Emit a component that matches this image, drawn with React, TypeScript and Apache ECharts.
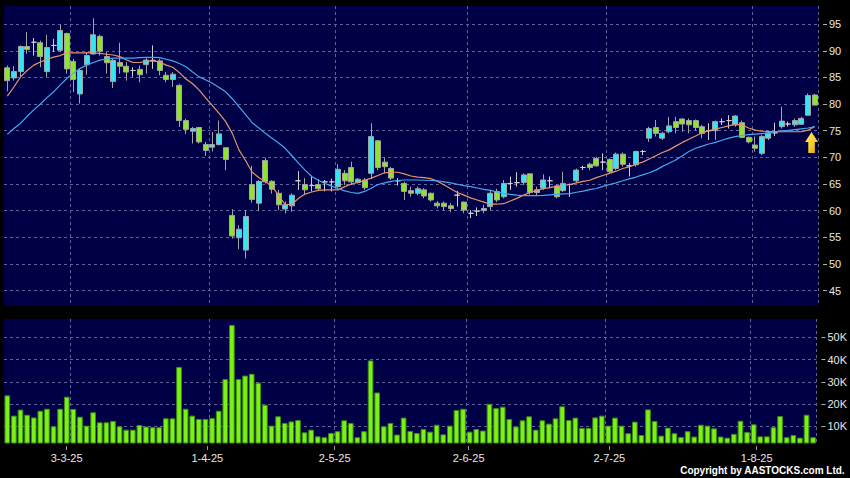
import React, { useEffect, useRef } from 'react';
import * as echarts from 'echarts';

// ---------- categories (HK trading days) ----------
const START_DATE: [number, number, number] = [2025, 1, 18]; // 18 Feb 2025
const DAY_COUNT = 123;
const HOLIDAYS = ['4-4-25', '18-4-25', '21-4-25', '1-5-25', '5-5-25', '1-7-25'];
const fmt = (d: Date) => `${d.getDate()}-${d.getMonth() + 1}-${String(d.getFullYear()).slice(2)}`;
function tradingDays(): string[] {
  const out: string[] = [];
  const d = new Date(START_DATE[0], START_DATE[1], START_DATE[2]);
  while (out.length < DAY_COUNT) {
    const wd = d.getDay();
    const s = fmt(d);
    if (wd !== 0 && wd !== 6 && !HOLIDAYS.includes(s)) out.push(s);
    d.setDate(d.getDate() + 1);
  }
  return out;
}
const DATES = tradingDays();
const TICK_LABELS = ['3-3-25', '1-4-25', '2-5-25', '2-6-25', '2-7-25', '1-8-25'];
const PRICE_TICKS = [45, 50, 55, 60, 65, 70, 75, 80, 85, 90, 95];
const VOLUME_TICKS = [10, 20, 30, 40, 50];

// ---------- series values ----------
const OPEN = [86.8,84.9,86.1,90.8,91.6,91.5,86.1,91.0,90.1,93.25, 88.0,81.9,87.4,89.4,92.7,88.9,84.25,87.8,87.1,86.3, 86.5,87.4,88.2,88.1,85.4,84.6,83.5,76.9,74.9,75.6, 72.4,71.9,72.4,71.8,59.1,54.9,52.6,64.9,61.4,69.4, 65.5,63.25,60.3,60.9,65.6,64.9,64.7,64.9,65.4,65.4, 64.5,67.0,68.1,65.3,65.75,67.0,73.1,69.1,67.9,65.6, 65.1,63.75,63.25,63.9,63.25,61.4,61.4,60.9,62.9,61.6, 59.5,59.9,60.0,60.75,63.6,62.6,65.1,65.25,65.3,66.9, 63.4,64.2,65.6,64.6,63.75,64.9,65.6,68.1,68.7,69.8, 69.1,69.6,67.9,70.6,68.4,68.6,71.1,73.6,75.6,73.6, 74.8,76.7,77.2,76.9,76.9,75.75,75.0,75.0,76.7,76.9, 76.1,76.5,73.75,72.3,70.75,73.6,74.6,75.75,76.25,76.1, 76.2,77.9,81.7];
const CLOSE = [84.4,86.1,90.8,90.25,91.6,88.9,90.6,91.0,93.8,86.6, 84.6,86.3,89.1,93.0,89.9,87.75,88.2,87.1,86.0,86.3, 85.5,88.25,88.2,86.3,84.6,85.6,76.9,75.25,75.4,72.9, 71.3,72.4,74.4,69.6,55.25,56.5,58.9,62.1,65.5,65.4, 64.0,61.1,61.1,62.9,65.6,63.9,64.7,64.1,65.4,65.4, 67.75,65.6,65.4,65.9,64.3,73.9,68.1,68.25,66.1,65.6, 63.6,63.25,64.1,62.75,62.0,60.9,60.75,60.4,62.9,60.1, 59.5,59.9,60.4,63.25,62.0,65.1,65.1,65.25,66.7,63.4, 63.9,65.75,65.6,62.6,65.1,64.9,67.6,68.1,68.1,68.4, 69.1,67.3,70.6,68.7,68.4,71.1,71.1,75.4,74.5,74.5, 75.9,75.6,76.25,76.1,75.6,74.5,75.0,76.7,76.7,76.9, 77.75,73.75,72.9,71.7,73.9,74.6,74.6,76.8,76.25,76.9, 77.3,81.6,79.8];
const LOW = [82.4,84.4,85.1,89.4,89.1,86.9,85.1,89.75,89.75,85.7, 82.25,80.1,85.5,89.25,89.1,85.7,83.0,85.7,84.4,85.1, 84.1,85.7,86.6,85.4,84.1,83.2,75.7,74.4,72.6,72.6, 70.25,71.1,72.25,67.6,54.75,52.75,51.0,61.5,59.9,65.1, 63.2,60.1,59.5,59.8,63.9,62.9,63.6,63.7,63.6,63.6, 64.1,64.8,64.8,65.1,63.9,65.9,67.6,67.0,65.75,64.7, 62.0,62.6,62.9,62.3,61.7,60.4,60.1,59.7,60.75,59.5, 58.6,59.0,59.5,60.1,61.6,62.3,63.9,64.5,64.8,63.0, 62.9,63.9,64.3,62.3,63.5,62.6,65.25,67.6,67.6,68.25, 67.6,67.0,67.6,68.25,66.4,68.25,70.4,72.9,73.9,73.25, 74.5,74.5,74.8,74.5,75.1,73.6,73.25,73.25,76.1,75.4, 75.75,73.6,72.6,71.1,70.4,73.25,74.0,75.4,75.75,75.75, 76.1,77.9,79.8];
const HIGH = [87.25,87.1,91.0,93.5,92.4,91.9,93.0,92.25,94.9,93.4, 88.5,86.6,89.75,96.1,93.0,89.75,88.5,91.5,87.9,86.9, 87.25,88.6,91.0,88.5,86.0,86.0,83.8,77.25,75.7,75.7, 72.9,74.75,76.9,71.9,60.25,57.25,60.1,68.4,65.7,69.9, 65.7,63.9,61.7,63.25,67.4,66.1,66.4,65.9,65.75,66.0, 68.7,67.6,69.2,66.1,66.1,76.4,73.25,69.9,68.2,66.1, 65.4,64.5,64.5,64.2,63.4,61.8,61.7,61.4,63.7,61.7, 60.1,60.6,61.1,63.9,64.1,65.75,66.4,67.2,67.0,67.0, 64.5,66.8,66.4,64.9,67.3,65.1,67.9,68.4,69.0,70.1, 70.75,69.8,70.9,70.9,68.9,71.25,71.4,75.75,77.0,74.8, 77.6,77.6,77.3,77.3,77.1,76.1,76.4,76.9,77.3,77.9, 77.9,76.9,73.9,73.9,74.2,74.8,76.5,79.5,76.7,77.3, 77.6,82.0,81.9];
const VOLUME_K = [23.9,14.8,17.5,15.2,14.0,17.0,17.9,10.0,17.9,23.3, 17.8,14.3,10.3,16.3,11.8,11.8,12.4,10.0,8.5,8.5, 10.6,9.9,9.6,9.6,13.6,13.6,36.7,17.9,14.8,13.3, 13.3,13.7,17.0,31.2,55.5,31.2,32.8,33.6,29.6,19.7, 10.3,14.5,11.5,12.2,12.8,7.3,8.5,5.5,5.1,7.0, 7.8,12.7,11.5,5.1,7.8,39.6,25.2,10.0,11.5,6.3, 13.9,7.9,7.0,8.8,7.6,10.7,6.4,10.3,17.3,17.9, 7.6,8.8,8.1,20.1,18.2,18.8,13.3,9.9,12.7,14.5, 8.5,12.7,11.2,13.6,19.0,12.8,13.9,9.3,9.3,14.0, 14.8,10.3,13.9,10.3,6.9,12.1,6.1,17.6,12.4,5.8, 9.4,6.9,5.2,7.8,5.4,10.7,10.3,9.1,5.4,4.9, 6.6,12.5,7.5,10.9,5.5,5.5,9.6,14.6,5.1,6.1, 4.9,15.2,5.1];
const MA_SHORT = [81.5,83.2,85.1,86.3,87.3,87.9,88.4,88.8,89.1,89.6, 89.6,89.6,89.6,89.6,89.5,89.35,89.2,88.9,88.3,87.8, 87.8,88.0,88.1,87.9,87.3,86.9,85.9,84.7,83.8,82.6, 81.1,79.7,78.25,76.7,74.5,71.4,69.4,67.2,66.2,65.4, 64.6,62.8,61.1,61.2,62.3,63.1,63.5,63.8,63.9,63.9, 63.9,64.5,65.0,65.3,65.7,66.1,66.6,67.1,67.2,67.2, 66.9,66.5,66.3,66.2,66.0,65.5,64.8,64.1,63.4,62.9, 62.4,62.0,61.6,61.2,61.2,61.3,61.8,62.3,62.9,63.4, 63.8,64.1,64.3,64.6,64.7,64.9,65.2,65.5,65.7,66.2, 66.6,67.0,67.4,67.9,68.2,68.7,69.1,69.7,70.3,70.9, 71.4,72.1,72.8,73.4,74.0,74.6,75.0,75.3,75.6,75.9, 76.2,76.1,75.5,75.1,74.9,74.85,74.8,74.8,74.8,74.8, 74.8,75.1,75.8];
const MA_LONG = [74.3,75.4,76.4,77.7,78.9,80.0,81.2,82.3,83.6,84.8, 85.8,86.7,87.3,87.8,88.25,88.45,88.6,88.6,88.6,88.6, 88.7,88.75,88.75,88.7,88.4,88.1,87.6,87.0,86.0,85.1, 84.5,83.9,83.1,82.3,81.0,79.5,78.0,76.5,75.5,74.5, 73.6,72.7,71.7,70.3,68.9,67.6,66.4,65.7,65.1,64.6, 64.1,63.7,63.4,63.25,63.6,64.2,64.9,65.2,65.5,65.65, 65.75,65.75,65.75,65.7,65.65,65.6,65.4,65.2,64.95,64.7, 64.5,64.25,64.0,63.8,63.5,63.25,63.05,62.9,62.8,62.8, 62.8,62.85,62.95,63.05,63.15,63.2,63.45,63.65,63.95,64.15, 64.55,64.9,65.2,65.6,65.95,66.3,66.7,67.1,67.6,68.3, 68.9,69.5,70.3,71.1,71.7,72.1,72.5,72.8,73.2,73.6, 73.9,74.1,74.25,74.35,74.45,74.55,74.75,74.95,75.05,75.2, 75.35,75.5,75.75];
const SIGNAL_INDEX = 121;
const SIGNAL_VALUE = 72.8;

// ---------- styles ----------
const FONT = '"Liberation Sans", Arial, Helvetica, sans-serif';
const NAVY = '#000046';
const UP = '#38e4f0';
const DOWN = '#8ee62c';
const GRID_LINE = { color: '#62629a', type: [3, 3] as any, width: 1 };
const ARROW = 'path://M6.5,0 L13,10 L9.8,10 L9.8,21 L3.2,21 L3.2,10 L0,10 Z';

const isTick = (_i: number, v: string) => TICK_LABELS.includes(v);
const splitAfterTick = (i: number) => i > 0 && TICK_LABELS.includes(DATES[i - 1]);

export default function App() {
  const ref = useRef<HTMLDivElement>(null);
  useEffect(() => {
    document.body.style.margin = '0';
    document.body.style.background = '#000';
    const chart = echarts.init(ref.current!, null, { renderer: 'svg' });
    const candles = DATES.map((_, i) => [OPEN[i], CLOSE[i], LOW[i], HIGH[i]]);
    const hiddenCat = {
      type: 'category',
      data: DATES,
      boundaryGap: true,
      axisLine: { show: false },
      axisTick: { show: false },
      axisLabel: { show: false },
      splitLine: { show: true, interval: splitAfterTick, lineStyle: GRID_LINE },
    };
    const option: any = {
      animation: false,
      backgroundColor: '#000',
      textStyle: { fontFamily: FONT },
      grid: [
        { left: 4, top: 6, width: 814, height: 300, show: true, backgroundColor: NAVY, borderWidth: 0 },
        { left: 4, top: 319, width: 814, height: 124, show: true, backgroundColor: NAVY, borderWidth: 0 },
        { left: 3, top: 443, width: 824, height: 1, show: false },
      ],
      xAxis: [
        { ...hiddenCat, gridIndex: 0 },
        { ...hiddenCat, gridIndex: 1 },
        {
          type: 'category',
          gridIndex: 2,
          data: DATES,
          boundaryGap: true,
          position: 'bottom',
          axisLine: { show: false },
          axisTick: {
            show: true,
            alignWithLabel: true,
            interval: isTick,
            length: 6,
            lineStyle: { color: '#9a9a9a', type: [0, 2, 4, 0] },
          },
          axisLabel: { interval: isTick, color: '#e8e8e8', fontSize: 11, margin: 8, fontFamily: FONT },
          splitLine: { show: false },
        },
      ],
      yAxis: [
        {
          type: 'value',
          gridIndex: 0,
          position: 'right',
          min: 42.1,
          max: 98.4,
          axisLine: { show: false },
          axisTick: { show: true, length: 9, customValues: PRICE_TICKS, lineStyle: { color: '#b0b0b0', type: [0, 5, 4, 0] } },
          axisLabel: { customValues: PRICE_TICKS, color: '#e8e8e8', fontSize: 11, margin: 11, fontFamily: FONT },
          splitLine: { show: true, customValues: PRICE_TICKS, lineStyle: GRID_LINE },
        },
        {
          type: 'value',
          gridIndex: 1,
          position: 'right',
          min: 2.5,
          max: 58.2,
          axisLine: { show: false },
          axisTick: { show: true, length: 9, customValues: VOLUME_TICKS, lineStyle: { color: '#b0b0b0', type: [0, 5, 4, 0] } },
          axisLabel: {
            customValues: VOLUME_TICKS,
            color: '#e8e8e8',
            fontSize: 11,
            margin: 11,
            fontFamily: FONT,
            formatter: (v: number) => `${v}K`,
          },
          splitLine: { show: true, customValues: VOLUME_TICKS, lineStyle: GRID_LINE },
        },
        { type: 'value', gridIndex: 2, show: false },
      ],
      series: [
        {
          type: 'candlestick',
          name: 'Price',
          xAxisIndex: 0,
          yAxisIndex: 0,
          data: candles,
          barWidth: 5.5,
          itemStyle: {
            color: UP,
            color0: DOWN,
            borderColor: '#a4a4a4',
            borderColor0: '#a4a4a4',
            borderColorDoji: '#d0d0d0',
            borderWidth: 1,
          },
        },
        {
          type: 'line',
          name: 'MA short',
          xAxisIndex: 0,
          yAxisIndex: 0,
          data: MA_SHORT,
          symbol: 'none',
          lineStyle: { color: '#e8946a', width: 1.2 },
          z: 3,
        },
        {
          type: 'line',
          name: 'MA long',
          xAxisIndex: 0,
          yAxisIndex: 0,
          data: MA_LONG,
          symbol: 'none',
          lineStyle: { color: '#45a8ee', width: 1.2 },
          z: 3,
          markPoint: {
            silent: true,
            label: { show: false },
            data: [
              {
                coord: [DATES[SIGNAL_INDEX], SIGNAL_VALUE],
                symbol: ARROW,
                symbolSize: [13, 21],
                symbolOffset: [3.5, 0],
                itemStyle: {
                  color: new echarts.graphic.LinearGradient(0, 0, 1, 1, [
                    { offset: 0, color: '#fff36a' },
                    { offset: 0.55, color: '#f7cf2a' },
                    { offset: 1, color: '#e39a06' },
                  ]),
                },
              },
            ],
          },
        },
        {
          type: 'bar',
          name: 'Volume',
          xAxisIndex: 1,
          yAxisIndex: 1,
          data: VOLUME_K,
          barWidth: '86%',
          itemStyle: { color: '#7af215', borderColor: '#3f8a10', borderWidth: 1 },
        },
      ],
      graphic: [
        {
          type: 'text',
          right: 5,
          top: 465,
          style: {
            text: 'Copyright by AASTOCKS.com Ltd.',
            fill: '#ffffff',
            font: `bold 10px ${FONT}`,
          },
        },
      ],
    };
    chart.setOption(option);
    return () => chart.dispose();
  }, []);
  return (
    <div
      ref={ref}
      style={{ position: 'fixed', left: 0, top: 0, width: 850, height: 478, background: '#000' }}
    />
  );
}
